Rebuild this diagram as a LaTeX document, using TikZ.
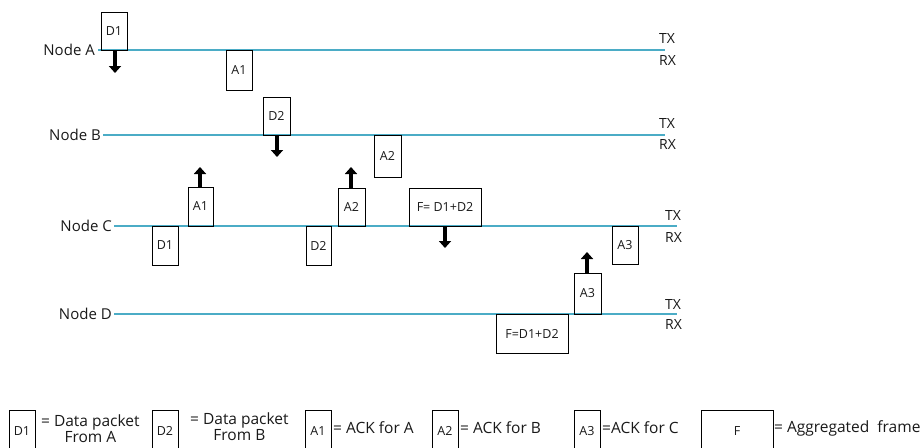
\documentclass[tikz,border=0pt]{standalone}
\usepackage{fontspec}
\setmainfont{Open Sans}
\usetikzlibrary{arrows.meta}
\definecolor{linecol}{RGB}{75,172,198}
\tikzset{
  pkt/.style={draw=black, line width=0.8pt, inner sep=0pt, outer sep=0pt, font=\fontsize{12.5}{14}\selectfont, text=black!90},
  nodelab/.style={anchor=east, inner sep=0pt, font=\fontsize{15}{17}\selectfont, text=black!90},
  trx/.style={anchor=west, inner sep=0pt, font=\fontsize{14}{16}\selectfont, text=black!90},
  legtxt/.style={anchor=west, inner sep=0pt, font=\fontsize{15.5}{16}\selectfont, text=black!90, align=center},
  legdata/.style={anchor=west, inner sep=0pt, font=\fontsize{15.5}{14}\selectfont, text=black!90, align=center},
  chan/.style={draw=linecol, line width=1.2pt},
  bigarrow/.style={draw=black, line width=4pt, -{Triangle[width=12pt,length=7pt]}}
}
\newcommand{\pbox}[6]{% name, x1, y1, x2, y2, text
  \node[pkt, minimum width={(#4-#2)*1pt}, minimum height={(#5-#3)*1pt}, anchor=north west] (#1) at (#2,#3) {#6};}
\begin{document}
\begin{tikzpicture}[x=1pt,y=-1pt]
\useasboundingbox (0,0) rectangle (920,447);
\clip (0,0) rectangle (920,447);
% node labels
\node[nodelab] (labA) at (95,50) {Node A};
\node[nodelab] (labB) at (101,135) {Node B};
\node[nodelab] (labC) at (112,226) {Node C};
\node[nodelab] (labD) at (112,314) {Node D};
% channel line end points
\coordinate (endA) at (665,50);
\coordinate (endB) at (665,135);
\coordinate (endC) at (677,226);
\coordinate (endD) at (677,314);
\draw[chan] (labA.east) ++(3,0) -- (endA);
\draw[chan] (labB.east) ++(2,0) -- (endB);
\draw[chan] (labC.east) ++(2,0) -- (endC);
\draw[chan] (labD.east) ++(2,0) -- (endD);
% TX / RX
\node[trx] (txA) at (659,39) {TX};
\node[trx] (rxA) at (659,61) {RX};
\node[trx] (txB) at (659,124) {TX};
\node[trx] (rxB) at (659,145) {RX};
\node[trx] (txC) at (665,215) {TX};
\node[trx] (rxC) at (665,237) {RX};
\node[trx] (txD) at (665,304) {TX};
\node[trx] (rxD) at (665,324) {RX};
% packets
\pbox{aD1}{101}{12}{127}{50}{D1}
\pbox{aA1}{226}{50}{252}{90}{A1}
\pbox{bD2}{263}{97}{290}{135}{D2}
\pbox{bA2}{374}{135}{401}{177}{A2}
\pbox{cA1}{188}{187}{213}{226}{A1}
\pbox{cD1}{152}{226}{178}{265}{D1}
\pbox{cD2}{306}{226}{331}{265}{D2}
\pbox{cA2}{338}{188}{365}{226}{A2}
\pbox{cF}{409}{188}{481}{226}{F= D1+D2}
\pbox{cA3}{612}{226}{638}{264}{A3}
\pbox{dA3}{574}{273}{601}{314}{A3}
\pbox{dF}{496}{314}{568}{353}{F=D1+D2}
% arrows
\coordinate (arA) at (115,73);
\coordinate (arB) at (277,157);
\coordinate (arC1) at (200,167);
\coordinate (arC2) at (351,167);
\coordinate (arC3) at (445,248);
\coordinate (arD) at (587,252);
\draw[bigarrow] (aD1.south -| arA) -- (arA);
\draw[bigarrow] (bD2.south -| arB) -- (arB);
\draw[bigarrow] (cA1.north -| arC1) -- (arC1);
\draw[bigarrow] (cA2.north -| arC2) -- (arC2);
\draw[bigarrow] (cF.south -| arC3) -- (arC3);
\draw[bigarrow] (dA3.north -| arD) -- (arD);
% legend
\pbox{lD1}{9}{410}{35}{452}{D1}
\node[legdata] (tD1) at (41,429) {= Data packet\\From A};
\pbox{lD2}{152}{410}{178}{452}{D2}
\node[legdata] (tD2) at (190,427) {= Data packet\\From B};
\pbox{lA1}{305}{410}{331}{452}{A1}
\node[legtxt] (tA1) at (333,428) {= ACK for A};
\pbox{lA2}{432}{410}{458}{452}{A2}
\node[legtxt] (tA2) at (460,428) {= ACK for B};
\pbox{lA3}{574}{410}{600}{452}{A3}
\node[legtxt] (tA3) at (602,428) {=ACK for C};
\pbox{lF}{701}{410}{773}{452}{F}
\node[legtxt] (tF) at (774,428) {= Aggregated\ \ frame};
\end{tikzpicture}
\end{document}
